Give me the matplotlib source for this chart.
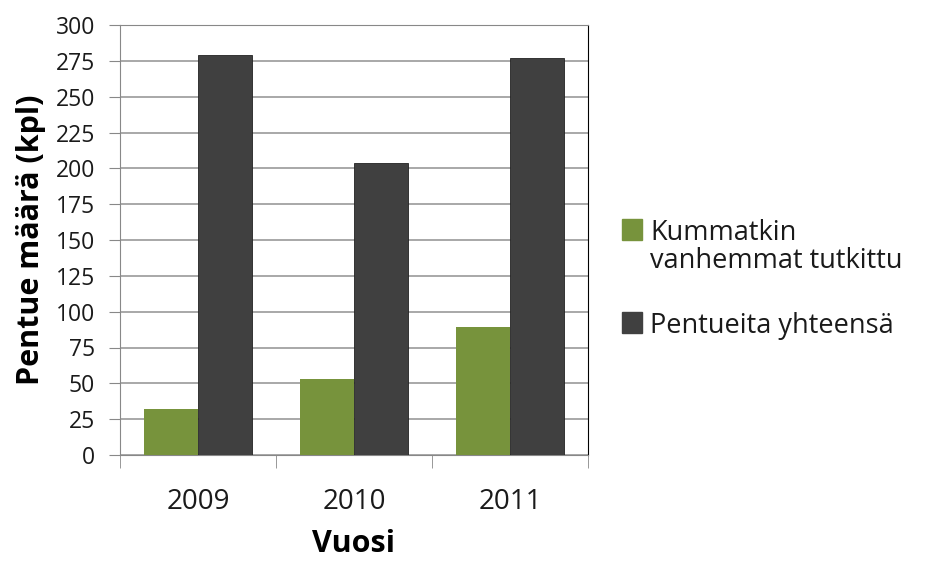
import matplotlib.pyplot as plt
import numpy as np
from matplotlib.patches import Rectangle

plt.rcParams['font.family'] = ['Open Sans', 'DejaVu Sans']

vuodet = ['2009', '2010', '2011']
kummatkin = [32, 53, 89]
yhteensa = [279, 204, 277]
varit = ['#77933C', '#404040']
y_ticks = np.arange(0, 301, 25)

W, H = 933, 561
fig = plt.figure(figsize=(W / 100, H / 100), dpi=100)
ax = fig.add_axes([120 / W, 1 - 455 / H, 468 / W, 430 / H])

x = np.arange(len(vuodet))
w = 0.345
ax.bar(x - w / 2, kummatkin, w, color=varit[0], zorder=3)
ax.bar(x + w / 2, yhteensa, w, color=varit[1],
       edgecolor='#222222', linewidth=0.6, zorder=3)

ax.set_xlim(-0.5, 2.5)
ax.set_ylim(0, 300)
ax.set_yticks(y_ticks)
ax.set_xticks(x)
ax.set_xticklabels(vuodet, fontsize=20, color='#1a1a1a')
ax.tick_params(axis='x', length=0, pad=24)
ax.set_xticks([-0.5, 0.5, 1.5, 2.5], minor=True)
ax.tick_params(axis='x', which='minor', length=9, color='#888888')
ax.tick_params(axis='y', labelsize=16.5, labelcolor='#1a1a1a', length=8,
               color='#888888', pad=10)
ax.yaxis.grid(True, color='#999999', linewidth=1.2, zorder=0)

for s in ['left', 'bottom', 'top']:
    ax.spines[s].set_color('#888888')
ax.spines['right'].set_color('black')

ax.set_ylabel('Pentue määrä (kpl)', fontsize=22, fontweight='bold', labelpad=7)
ax.set_xlabel('Vuosi', fontsize=22, fontweight='bold', labelpad=9)

# selite (legend) käsin, jotta merkki on ensimmäisen rivin kohdalla
def px(xp, yp):
    return xp / W, 1 - yp / H

rivit = [('Kummatkin', 240, 0), ('vanhemmat tutkittu', 268, None),
         ('Pentueita yhteensä', 333, 1)]
for teksti, yb, i in rivit:
    fig.text(*px(650, yb), teksti, fontsize=19.5, color='#1a1a1a', va='baseline')
    if i is not None:
        fig.patches.append(Rectangle(px(622, yb), 20 / W, 21 / H,
                                     transform=fig.transFigure,
                                     color=varit[i]))

fig.savefig('out.png', dpi=100)
